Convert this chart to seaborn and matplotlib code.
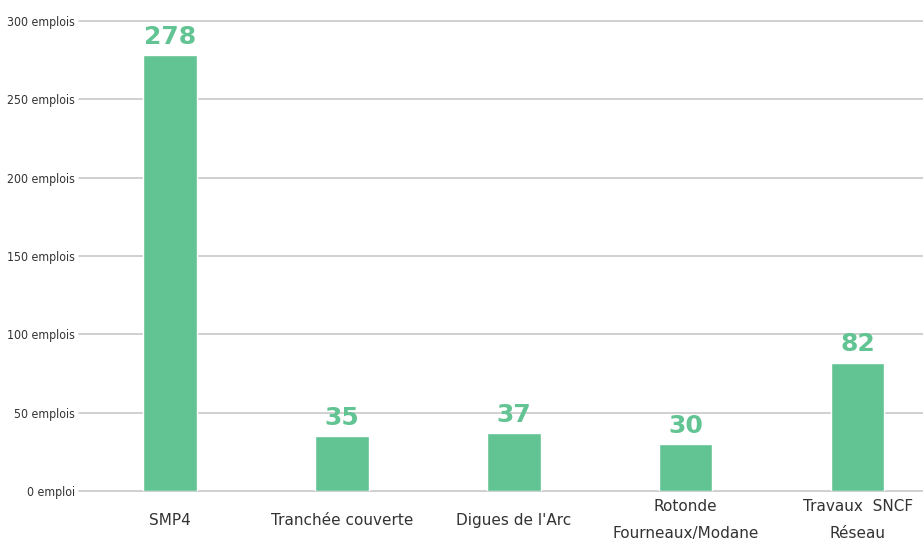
# -------------------------------------
# Import Libraries
# -------------------------------------
import pandas as pd
import matplotlib.pyplot as plt
import seaborn as sns


# -------------------------------------
# Data
# -------------------------------------
chantiers = [
    "SMP4",
    "Tranchée couverte",
    "Digues de l'Arc",
    "Rotonde\nFourneaux/Modane",
    "Travaux  SNCF\nRéseau"
]
emplois = [278, 35, 37, 30, 82]

y_ticks = [0, 50, 100, 150, 200, 250, 300]
y_tick_labels = ["0 emploi", "50 emplois", "100 emplois", "150 emplois",
                 "200 emplois", "250 emplois", "300 emplois"]

df = pd.DataFrame({"chantier": chantiers, "emplois": emplois})

green = "#62c393"


# -------------------------------------
# Figure
# -------------------------------------
sns.set_style("white")

fig = plt.figure(figsize=(9.23, 5.44), dpi=100)
ax = fig.add_axes([79 / 923, 53 / 544, 844 / 923, 470 / 544])

sns.barplot(
    data=df,
    x="chantier",
    y="emplois",
    color=green,
    saturation=1,
    width=0.31,
    ax=ax,
    zorder=3
)

# value labels
for i, v in enumerate(emplois):
    ax.text(i, v + 4, str(v), ha="center", va="bottom",
            fontsize=18, fontweight="bold", color=green,
            family=["DejaVu Sans"])

ax.set_xlim(-0.53, 4.38)
ax.set_ylim(0, 300)

ax.set_yticks(y_ticks)
ax.set_yticklabels(y_tick_labels, family=["DejaVu Sans"], stretch="condensed",
                   fontsize=8.8, color="#333333")
ax.yaxis.grid(True, color="#c8c8c8", linewidth=1.2, zorder=0)
for gl in ax.get_ygridlines():
    gl.set_clip_on(False)
ax.set_axisbelow(True)

ax.tick_params(axis="y", length=0, pad=3)
ax.tick_params(axis="x", length=0, pad=21)
for lbl in ax.get_xticklabels():
    lbl.set_fontsize(11)
    lbl.set_color("#333333")
    lbl.set_va("center")
    lbl.set_linespacing(1.95)

ax.set_xlabel("")
ax.set_ylabel("")

for s in ["top", "right", "left", "bottom"]:
    ax.spines[s].set_visible(False)

plt.savefig("out.png", dpi=100)
